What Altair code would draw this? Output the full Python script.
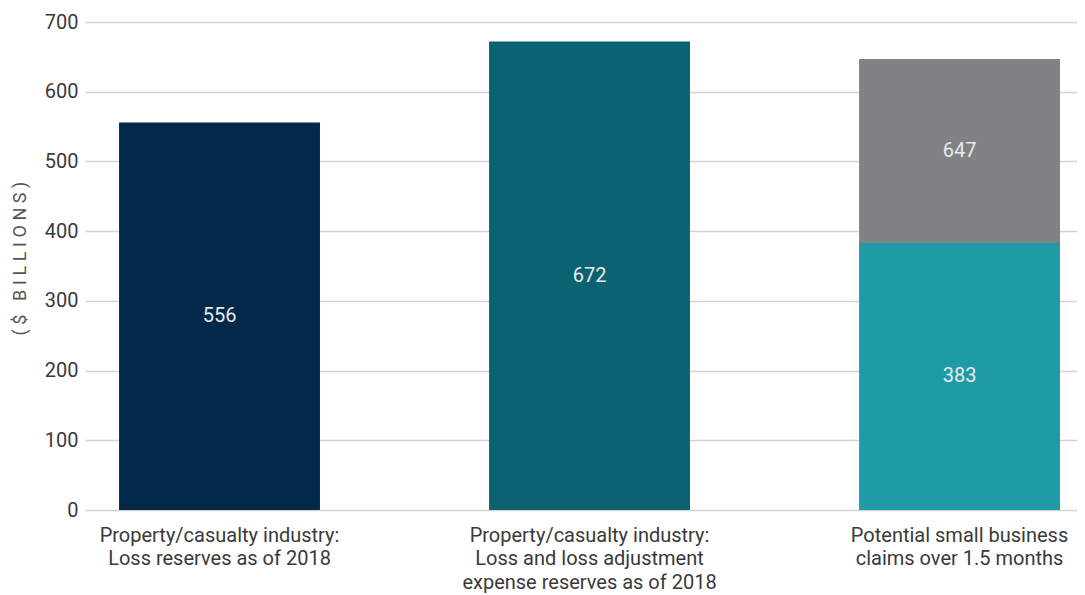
import altair as alt
import pandas as pd

categories = [
    "Property/casualty industry:|Loss reserves as of 2018",
    "Property/casualty industry:|Loss and loss adjustment|expense reserves as of 2018",
    "Potential small business|claims over 1.5 months",
]
seg_category = [categories[0], categories[1], categories[2], categories[2]]
seg_name = ["loss", "lae", "small_low", "small_top"]
seg_start = [0, 0, 0, 383]
seg_end = [556, 672, 383, 647]
seg_label = ["556", "672", "383", "647"]
seg_colors = ["#03294a", "#0b6272", "#1f9aa7", "#818286"]
y_ticks = [0, 100, 200, 300, 400, 500, 600, 700]
y_title = "(\u2005$\u2005 \u2005B\u2005I\u2005L\u2005L\u2005I\u2005O\u2005N\u2005S\u2005)"

df = pd.DataFrame({
    "category": seg_category,
    "segment": seg_name,
    "start": seg_start,
    "end": seg_end,
    "label": seg_label,
})

FONT = "Roboto"
FS = 20

x_enc = alt.X(
    "category:N",
    sort=categories,
    scale=alt.Scale(paddingInner=0.457, paddingOuter=0.069, align=0.667),
    axis=alt.Axis(
        title=None,
        labelAngle=0,
        labelExpr="split(datum.label, '|')",
        labelFontSize=FS,
        labelColor="#3a3a3a",
        labelFont=FONT,
        labelLineHeight=23.5,
        labelPadding=15,
        labelLimit=400,
        ticks=False,
        domain=False,
    ),
)

bars = alt.Chart(df).mark_bar().encode(
    x=x_enc,
    y=alt.Y(
        "start:Q",
        scale=alt.Scale(domain=[0, 700], nice=False),
        axis=alt.Axis(
            title=y_title,
            values=y_ticks,
            labelFontSize=FS,
            labelColor="#3a3a3a",
            labelFont=FONT,
            labelPadding=7,
            ticks=False,
            domain=False,
            grid=True,
            gridColor="#d4d4d4",
            gridWidth=1.5,
            titleFont=FONT,
            titleFontSize=18,
            titleFontWeight="normal",
            titleColor="#555555",
            titlePadding=15,
            titleY=236,
        ),
    ),
    y2="end:Q",
    color=alt.Color(
        "segment:N",
        scale=alt.Scale(domain=seg_name, range=seg_colors),
        legend=None,
    ),
)

texts = alt.Chart(df).transform_calculate(
    mid="(datum.start + datum.end) / 2"
).mark_text(
    font=FONT, fontSize=FS, color="#eaeaea", baseline="middle", align="center"
).encode(
    x=alt.X("category:N", sort=categories),
    y=alt.Y("mid:Q"),
    text="label:N",
)

chart = alt.layer(bars, texts).properties(
    width=992,
    height=488,
    autosize=alt.AutoSizeParams(type="none"),
    padding={"left": 77, "top": 14, "right": 0, "bottom": 85},
).configure_view(stroke=None)

chart.save("out.html", embed_options={"renderer": "svg", "actions": False})
